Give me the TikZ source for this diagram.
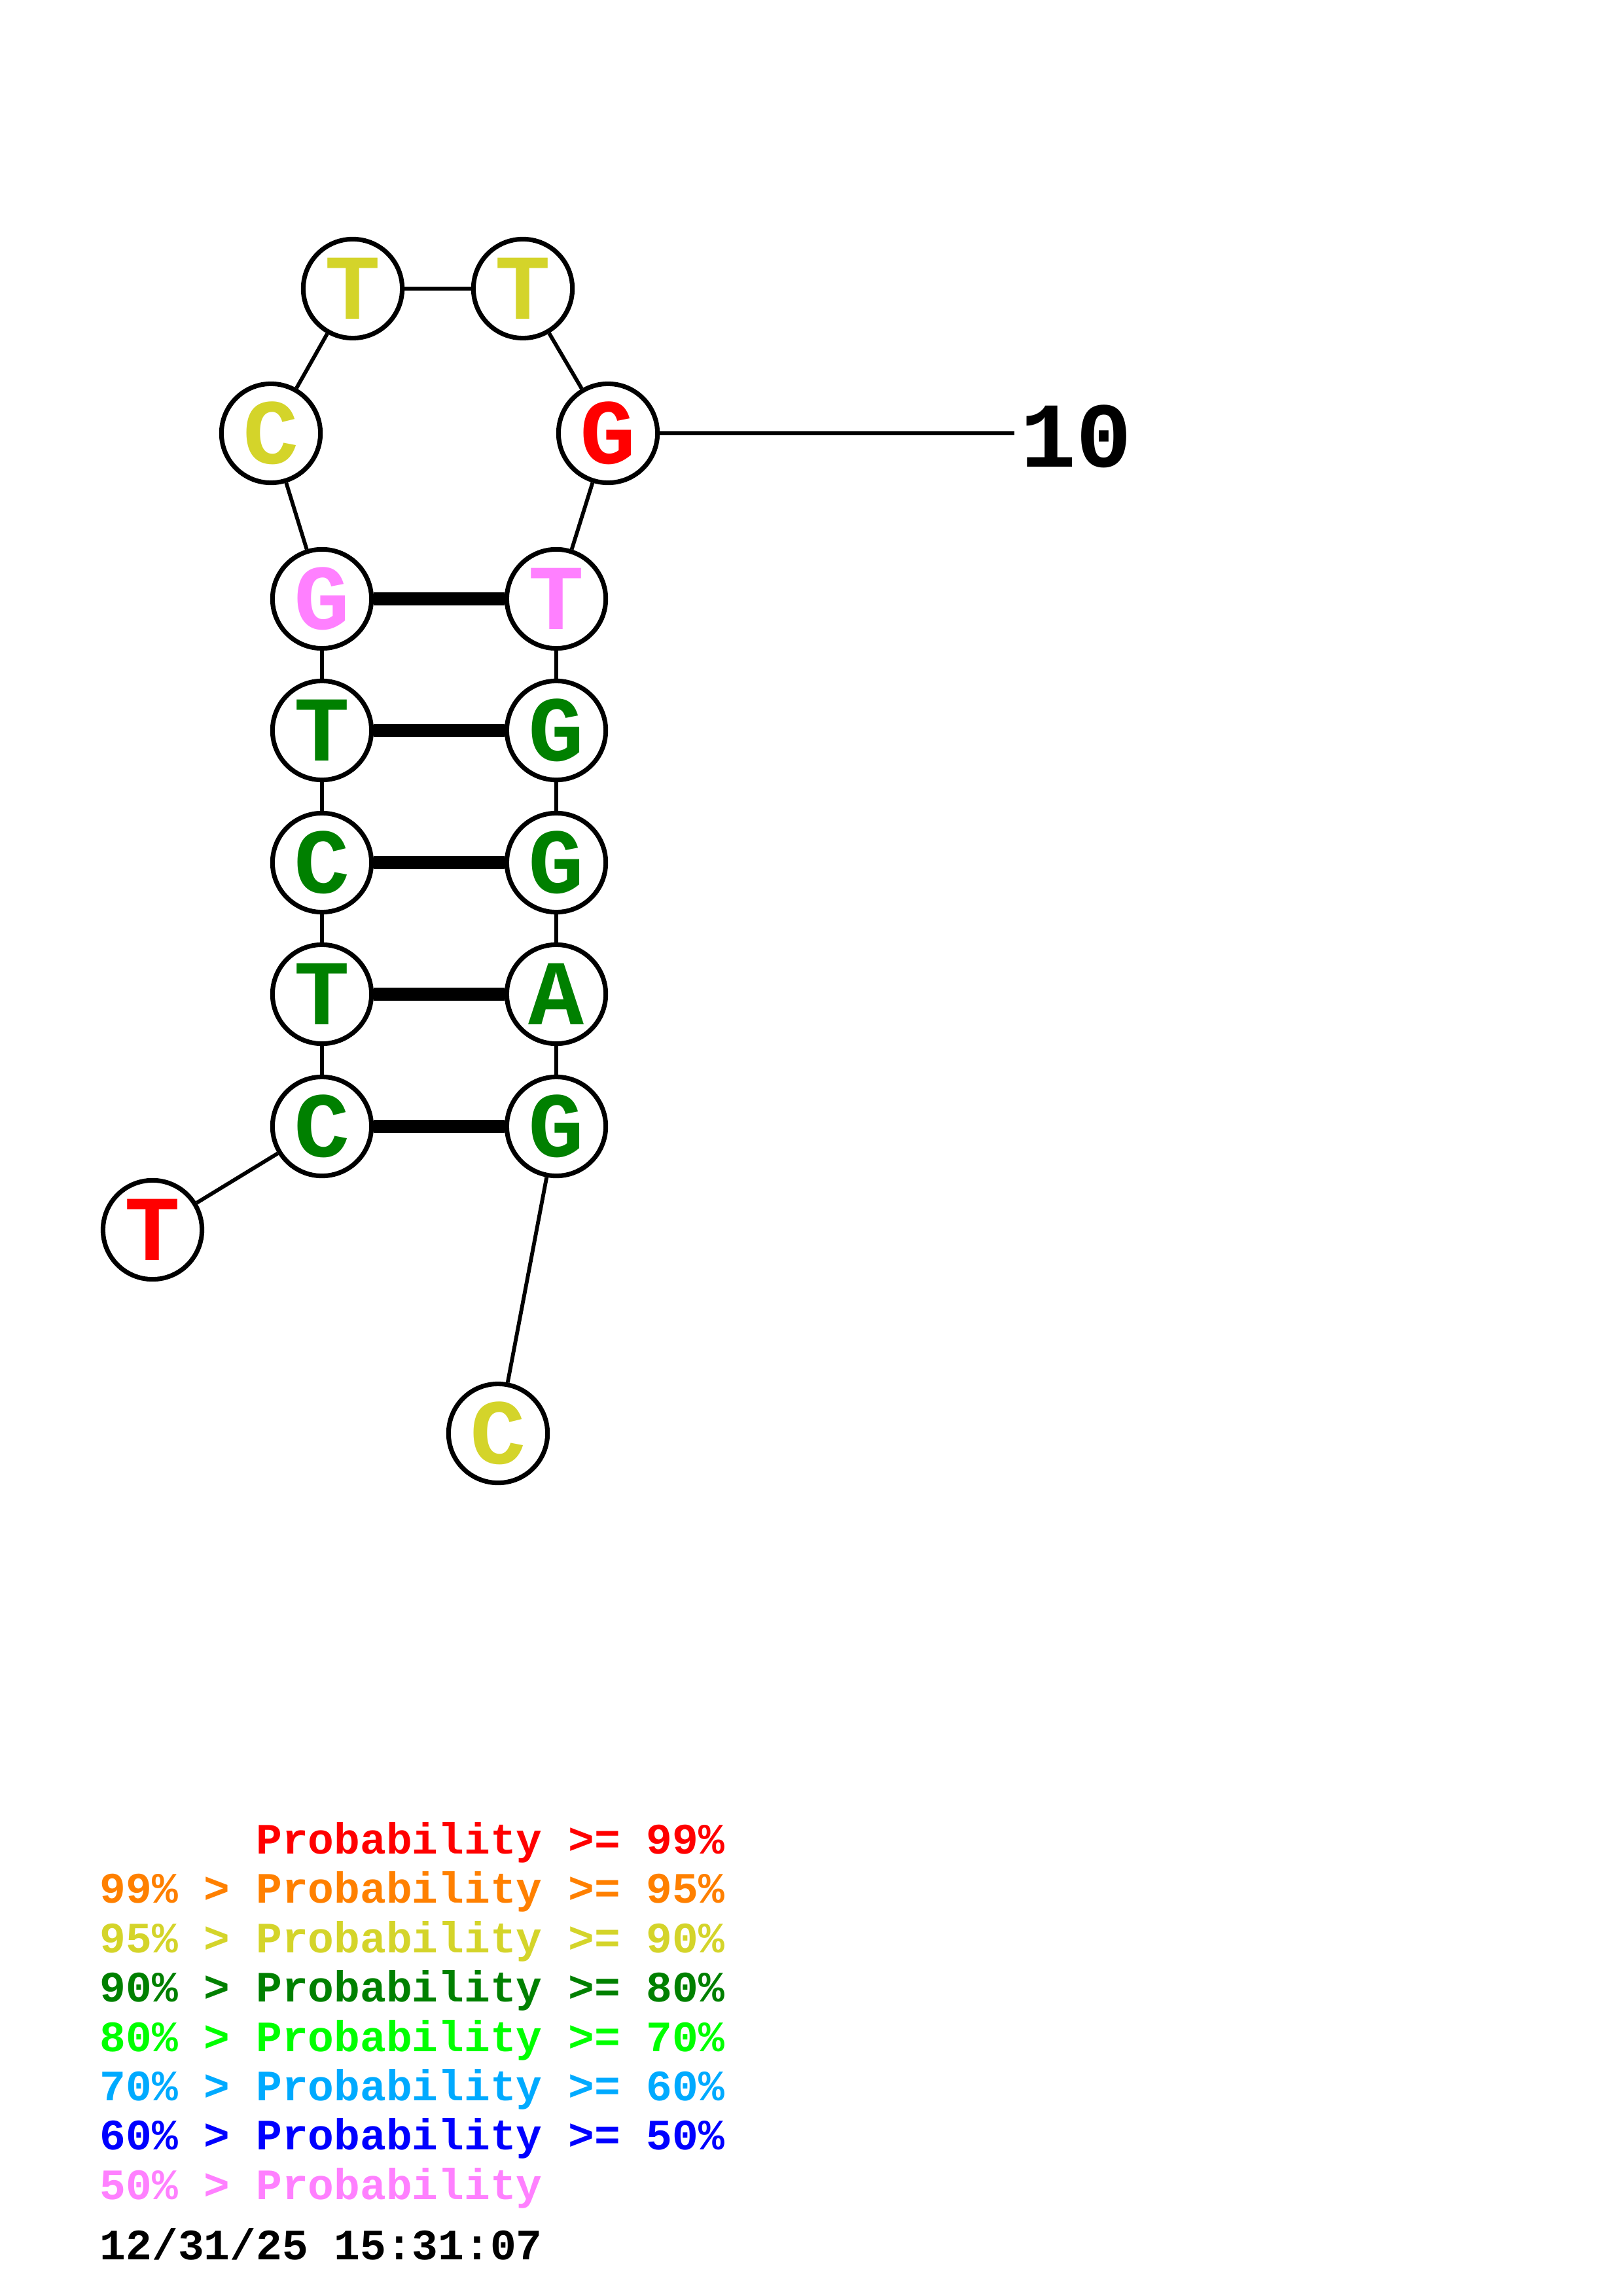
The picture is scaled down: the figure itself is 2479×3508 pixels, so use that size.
\documentclass[tikz,border=0pt]{standalone}
\usepackage{fontspec}
\newfontfamily\monofont{Liberation Mono}
\definecolor{cred}{RGB}{255,0,0}
\definecolor{corange}{RGB}{255,128,0}
\definecolor{cyellow}{RGB}{212,212,42}
\definecolor{cgreen}{RGB}{0,128,0}
\definecolor{clime}{RGB}{0,255,0}
\definecolor{csky}{RGB}{0,170,255}
\definecolor{cblue}{RGB}{0,0,255}
\definecolor{cpink}{RGB}{255,128,255}
\begin{document}
\begin{tikzpicture}[x=0.24pt,y=-0.24pt,
  base/.style={circle,draw=black,fill=white,line width=1.7pt,minimum size=36.3pt,inner sep=0pt,
    font=\monofont\bfseries\fontsize{34}{34}\selectfont},
  bb/.style={line width=1.4pt},
  pair/.style={line width=4.8pt},
  leg/.style={anchor=base west,inner sep=0pt,font=\monofont\bfseries\fontsize{15.9}{16}\selectfont}]
\useasboundingbox (0,0) rectangle (2479,3508);
% nodes
\node[base,text=cred] (n1) at (233,1879) {T};
\node[base,text=cgreen] (n2) at (492,1721) {C};
\node[base,text=cgreen] (n3) at (492,1519) {T};
\node[base,text=cgreen] (n4) at (492,1318) {C};
\node[base,text=cgreen] (n5) at (492,1116) {T};
\node[base,text=cpink] (n6) at (492,915) {G};
\node[base,text=cyellow] (n7) at (414,662) {C};
\node[base,text=cyellow] (n8) at (539,441) {T};
\node[base,text=cyellow] (n9) at (799,441) {T};
\node[base,text=cred] (n10) at (929,662) {G};
\node[base,text=cpink] (n11) at (850,915) {T};
\node[base,text=cgreen] (n12) at (850,1116) {G};
\node[base,text=cgreen] (n13) at (850,1318) {G};
\node[base,text=cgreen] (n14) at (850,1519) {A};
\node[base,text=cgreen] (n15) at (850,1721) {G};
\node[base,text=cyellow] (n16) at (761,2190) {C};
% label 10
\coordinate (tick) at (1550,662);
\node[anchor=west,inner sep=0pt,font=\monofont\bfseries\fontsize{34}{34}\selectfont] (lab10) at (1559,667) {10};
% backbone
\foreach \a/\b in {n1/n2,n2/n3,n3/n4,n4/n5,n5/n6,n6/n7,n7/n8,n8/n9,n9/n10,n10/n11,n11/n12,n12/n13,n13/n14,n14/n15,n15/n16}
  \draw[bb] (\a) -- (\b);
\foreach \a/\b in {n6/n11,n5/n12,n4/n13,n3/n14,n2/n15}
  \draw[pair] (\a) -- (\b);
\draw[bb] (n10) -- (tick);
% legend
\node[leg,text=cred] (l1) at (152,2832) {\phantom{99\% > }Probability >= 99\%};
\node[leg,text=corange] (l2) at (152,2907) {99\% > Probability >= 95\%};
\node[leg,text=cyellow] (l3) at (152,2983) {95\% > Probability >= 90\%};
\node[leg,text=cgreen] (l4) at (152,3058) {90\% > Probability >= 80\%};
\node[leg,text=clime] (l5) at (152,3134) {80\% > Probability >= 70\%};
\node[leg,text=csky] (l6) at (152,3209) {70\% > Probability >= 60\%};
\node[leg,text=cblue] (l7) at (152,3284) {60\% > Probability >= 50\%};
\node[leg,text=cpink] (l8) at (152,3360) {50\% > Probability};
\node[leg,text=black] (date) at (152,3452) {12/31/25 15:31:07};
\end{tikzpicture}
\end{document}
